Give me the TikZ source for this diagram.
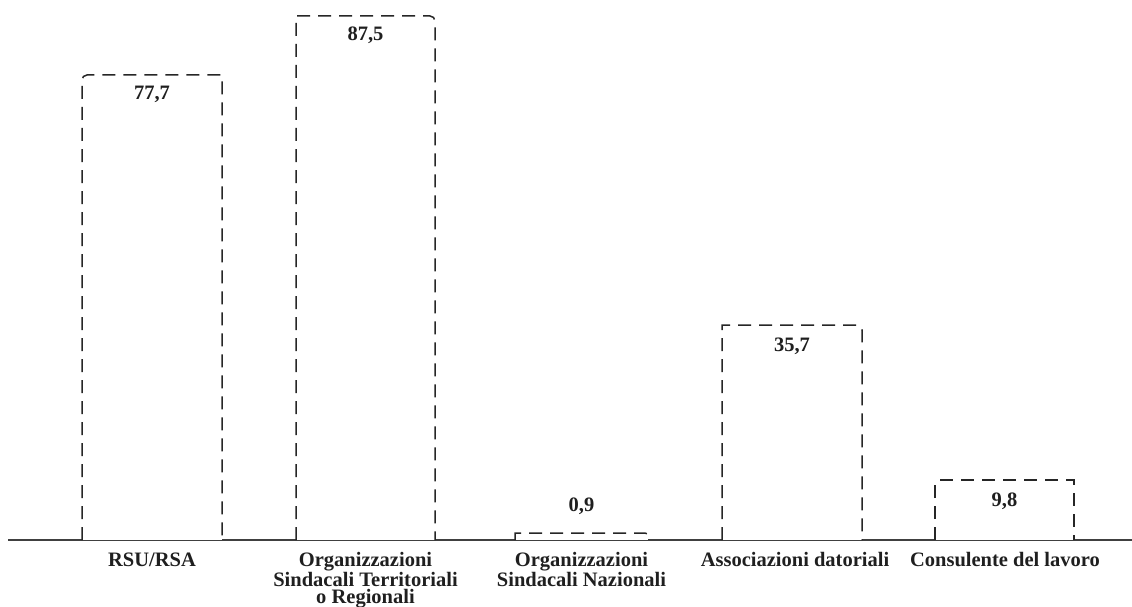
\documentclass[tikz,border=0pt]{standalone}
\usepackage{fontspec}
\setmainfont{Liberation Serif}
\begin{document}
\begin{tikzpicture}[x=1pt,y=-1pt,
  bar/.style={draw=black!85,line width=1.5pt,dash pattern=on 13pt off 8pt},
  val/.style={font=\fontsize{20.5}{17.2}\selectfont\bfseries,text=black!88,anchor=base,inner sep=0pt},
  cat/.style={font=\fontsize{20.5}{17.2}\selectfont\bfseries,text=black!88,anchor=north,align=center,inner sep=0pt},
  axis/.style={draw=black!75,line width=1.6pt}]
\useasboundingbox (0,0) rectangle (1132,607);
\coordinate (a0) at (8,540);
\coordinate (a1) at (1132,540);
\draw[axis] (a0) -- (a1);
% bars
\fill[white] (82,75) rectangle (222,540);
\draw[bar] (82,540) [rounded corners=5pt] -- (82,75) [sharp corners] -- (222,75) -- (222,540);
\fill[white] (296,16) rectangle (435,540);
\draw[bar] (296,540) -- (296,16) [rounded corners=5pt] -- (435,16) [sharp corners] -- (435,540);
\fill[white] (515,533) rectangle (648,540);
\draw[bar] (515,540) -- (515,533) [rounded corners=3pt] -- (648,533) [sharp corners] -- (648,540);
\fill[white] (722,325) rectangle (862,540);
\draw[bar] (722,540) -- (722,325) [rounded corners=5pt] -- (862,325) [sharp corners] -- (862,540);
\fill[white] (935,480) rectangle (1074,540);
\draw[bar] (935,540) [rounded corners=5pt] -- (935,480) [sharp corners] -- (1074,480) -- (1074,540);
% values
\node[val] (v1) at (152,100) {77,7};
\node[val] (v2) at (365.5,41) {87,5};
\node[val] (v3) at (581.5,511) {0,9};
\node[val] (v4) at (792,351) {35,7};
\node[val] (v5) at (1004.5,506) {9,8};
% categories
\node[cat] (c1) at (152,552.5) {RSU/RSA};
\node[cat] (c2) at (365.5,552) {Organizzazioni\\Sindacali Territoriali\\o Regionali};
\node[cat] (c3) at (581.5,552) {Organizzazioni\\Sindacali Nazionali};
\node[cat] (c4) at (795,552.5) {Associazioni datoriali};
\node[cat] (c5) at (1005,552) {Consulente del lavoro};
\end{tikzpicture}
\end{document}
